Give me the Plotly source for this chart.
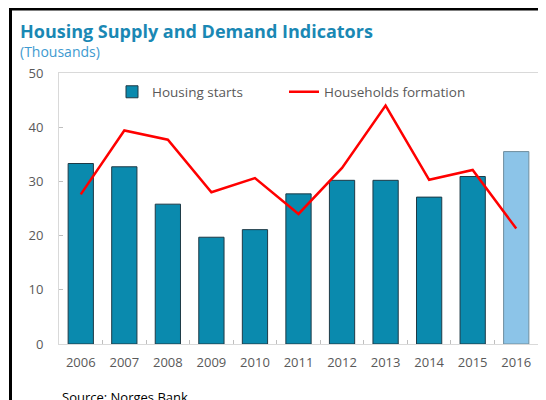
import plotly.graph_objects as go

years = ["2006", "2007", "2008", "2009", "2010", "2011", "2012", "2013", "2014", "2015", "2016"]
housing_starts = [33.3, 32.7, 25.8, 19.7, 21.1, 27.7, 30.2, 30.2, 27.1, 30.9, 35.5]
households_formation = [27.6, 39.4, 37.7, 28.0, 30.6, 24.0, 32.5, 44.0, 30.3, 32.1, 21.3]

# The page is shown with the browser's default 8px body margin, so design in
# screen pixels and shift by OFF.
OFF = 8
W, H = 546, 400
# screen-pixel plot area in the reference
SX0, SX1, SY0, SY1 = 59, 538, 73, 344
L = SX0 - OFF
T = SY0 - OFF
R = W - (SX1 - OFF)
B = H - (SY1 - OFF)
pw, ph = W - L - R, H - T - B

def px_x(x):
    return (x - OFF - L) / pw

def px_y(y):
    return (H - B - (y - OFF)) / ph

bar_colors = ["#0A8AAE"] * 10 + ["#8CC4E8"]
bar_lines = ["#1E3A46"] * 10 + ["#6F8E9E"]

fig = go.Figure()
fig.add_trace(go.Bar(
    x=years, y=housing_starts, name="Housing starts",
    marker=dict(color=bar_colors, line=dict(color=bar_lines, width=1)),
    width=0.58, legend="legend",
))
fig.add_trace(go.Scatter(
    x=years, y=households_formation, name="Households formation",
    mode="lines", line=dict(color="#FF0000", width=2.5), legend="legend2",
))

font_family = "Open Sans, Noto Sans, DejaVu Sans, sans-serif"
legend_common = dict(
    orientation="h", xanchor="left", yanchor="middle",
    font=dict(size=13.5, color="#595959"), bgcolor="rgba(0,0,0,0)",
)

fig.update_layout(
    width=W, height=H,
    margin=dict(l=L, r=R, t=T, b=B),
    paper_bgcolor="white", plot_bgcolor="white",
    font=dict(family=font_family, size=13, color="#595959"),
    showlegend=True,
    legend=dict(x=px_x(112), y=px_y(92), **legend_common),
    legend2=dict(x=px_x(284), y=px_y(92), **legend_common),
    xaxis=dict(
        showline=True, linecolor="#D9D9D9", linewidth=1, mirror=True,
        ticks="inside", ticklen=4, tickcolor="#BFBFBF", tickson="boundaries",
        showgrid=False, tickfont=dict(size=13, color="#595959"),
        ticklabelstandoff=6,
    ),
    yaxis=dict(
        range=[0, 50], dtick=10, showline=True, linecolor="#D9D9D9", linewidth=1, mirror=True,
        ticks="inside", ticklen=4, tickcolor="#BFBFBF", showgrid=False, zeroline=False,
        tickfont=dict(size=13, color="#595959"), ticklabelstandoff=12,
    ),
    bargap=0.42,
)

fig.add_annotation(
    text="<b>Housing Supply and Demand Indicators</b>", xref="paper", yref="paper",
    x=px_x(18), y=px_y(31), xanchor="left", yanchor="middle", showarrow=False,
    font=dict(size=18, color="#1A88B4", family=font_family),
)
fig.add_annotation(
    text="(Thousands)", xref="paper", yref="paper",
    x=px_x(18), y=px_y(52), xanchor="left", yanchor="middle", showarrow=False,
    font=dict(size=14, color="#3E9AD0", family=font_family),
)
fig.add_annotation(
    text="Source: Norges Bank.", xref="paper", yref="paper",
    x=px_x(60), y=px_y(386), xanchor="left", yanchor="top", showarrow=False,
    font=dict(size=13, color="#000000", family=font_family),
)

# frame border (top and left)
fig.add_shape(type="line", xref="paper", yref="paper",
              x0=px_x(10.5), x1=px_x(10.5), y0=px_y(9), y1=px_y(420),
              line=dict(color="black", width=3))
fig.add_shape(type="line", xref="paper", yref="paper",
              x0=px_x(9), x1=px_x(570), y0=px_y(9), y1=px_y(9),
              line=dict(color="black", width=3))

fig.write_html("out.html")
